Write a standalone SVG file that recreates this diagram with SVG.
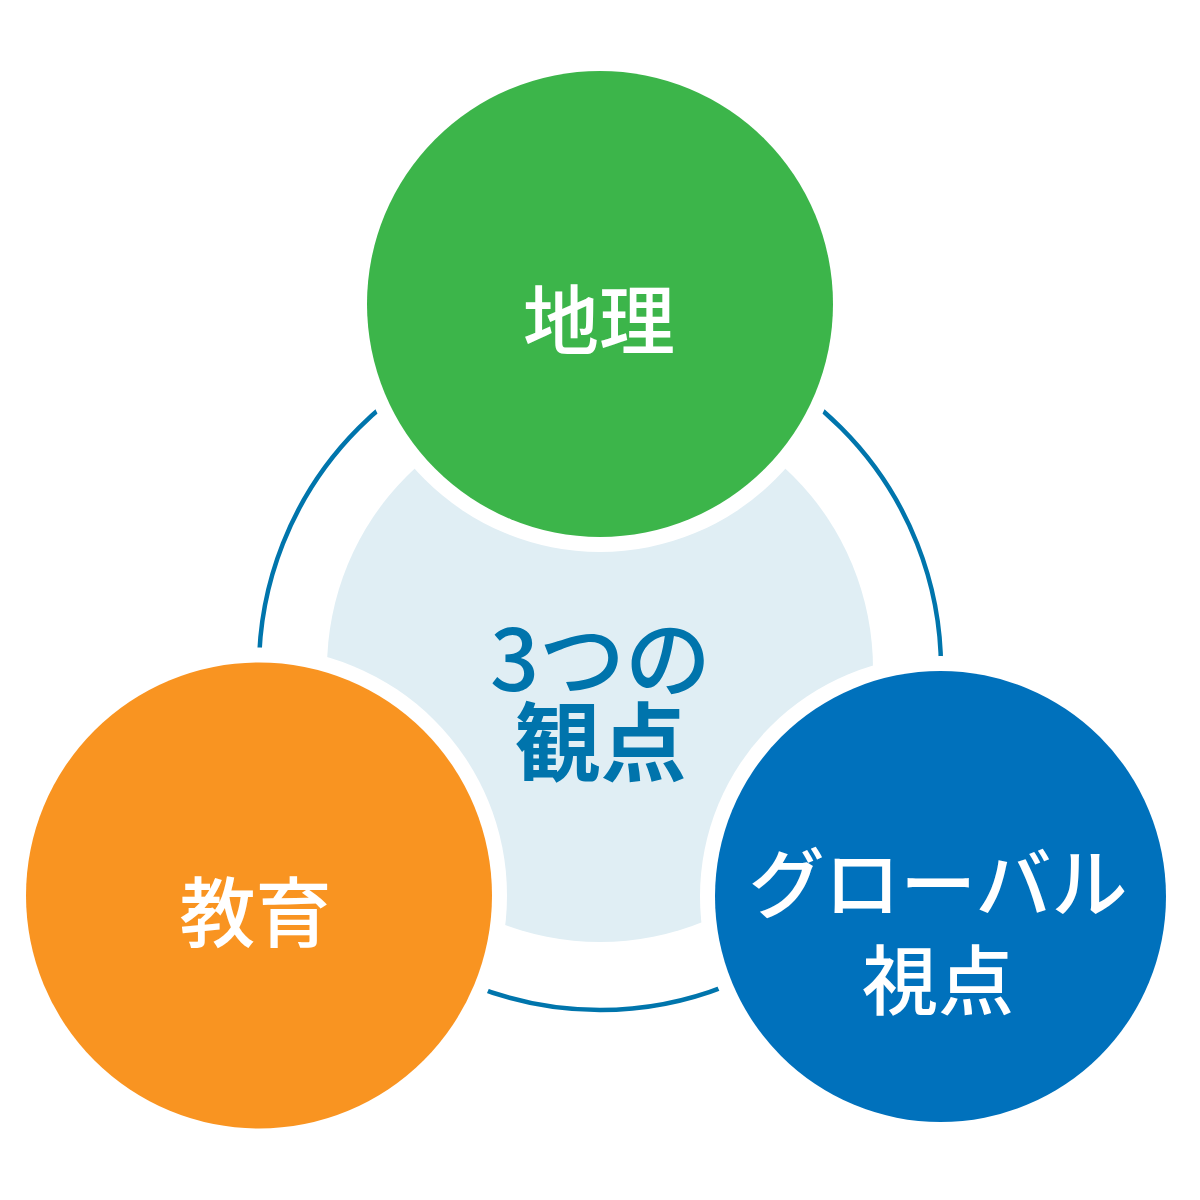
<svg xmlns="http://www.w3.org/2000/svg" width="1200" height="1200" viewBox="0 0 1200 1200">
<style>
.lbl{font-family:"Noto Sans CJK JP","Noto Sans CJK SC",sans-serif;font-size:76px;fill:#ffffff;text-anchor:middle;font-weight:500}
.ctr{font-family:"Noto Sans CJK JP","Noto Sans CJK SC",sans-serif;font-size:86px;fill:#0074AC;text-anchor:middle;font-weight:700}
.med{font-weight:500}
.halo{fill:#ffffff}
</style>
<rect width="1200" height="1200" fill="#ffffff"/>
<g id="center">
<circle cx="600" cy="669" r="273" fill="#E0EEF4"/>
<text class="ctr med" x="600.5" y="691">3つの</text>
<text class="ctr" x="600.5" y="775">観点</text>
</g>
<g id="connectors">
<circle cx="600" cy="669" r="341" fill="none" stroke="#0075AC" stroke-width="4.5"/>
</g>
<g id="chiri">
<circle class="halo" cx="600" cy="304" r="248"/>
<circle cx="600" cy="304" r="233" fill="#3CB54A"/>
<text class="lbl" x="599" y="349">地理</text>
</g>
<g id="kyoiku">
<circle class="halo" cx="259" cy="895.5" r="248"/>
<circle cx="259" cy="895.5" r="233" fill="#F99421"/>
<text class="lbl" x="255.5" y="941">教育</text>
</g>
<g id="global">
<circle class="halo" cx="940.5" cy="896.5" r="240.5"/>
<circle cx="940.5" cy="896.5" r="225.5" fill="#0071BC"/>
<text class="lbl" x="938" y="912">グローバル</text>
<text class="lbl" x="938" y="1009">視点</text>
</g>
</svg>
